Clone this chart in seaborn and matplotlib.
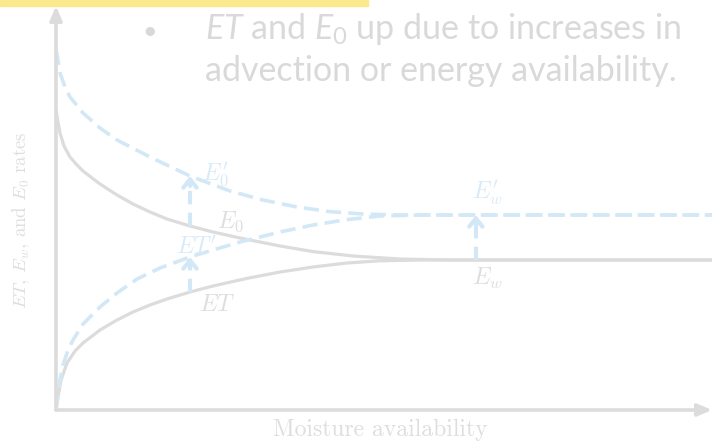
import numpy as np
import pandas as pd
import matplotlib as mpl
import matplotlib.pyplot as plt
import matplotlib.patches as mpatches
import seaborn as sns

# curve points (x = moisture availability, y = rate), 0-100 scale
e0_x = [0, 0.30, 0.61, 1.22, 2.13, 3.20, 4.12, 5.49, 6.71, 9.30, 11.74, 14.33, 16.92, 20.43,
        23.93, 28.05, 34.15, 39.18, 45.27, 52.44, 60.06, 100]
e0_y = [75, 72, 69.25, 66, 63.25, 61.25, 59.75, 58, 56.5, 53.75, 51.5, 49.5, 47.75, 46,
        44.5, 43, 41, 39.6, 38.5, 37.75, 37.5, 37.5]

et_x = [0, 0.30, 0.76, 1.68, 2.9, 4.12, 6.71, 9.30, 11.74, 14.33, 16.92, 20.43, 23.93,
        29.1, 34.15, 39.18, 44.36, 49.39, 55.49, 100]
et_y = [0, 3.25, 7.5, 11.75, 14.75, 16.75, 20, 22.5, 24.5, 26.25, 27.75, 29.5, 31.0,
        32.9, 34.5, 35.75, 36.75, 37.3, 37.5, 37.5]

e0p_x = [0, 0.30, 0.61, 1.37, 2.13, 4.12, 6.71, 9.30, 14.33, 20.43, 26.52, 31.55, 36.74,
         41.77, 46.8, 52.44, 100]
e0p_y = [90, 87.5, 84.25, 80.75, 78.25, 74.25, 70.5, 67.5, 63.25, 58.5, 54.75, 52.5, 50.75,
         49.6, 49, 48.75, 48.75]

etp_x = [0, 0.30, 0.61, 1.07, 1.83, 2.59, 4.12, 6.71, 9.30, 12.35, 15.85, 20.43, 23.93,
         28.05, 34.15, 39.18, 44.36, 49.39, 55.49, 100]
etp_y = [0, 3.75, 7.5, 11.25, 15, 17.5, 21.5, 25.75, 29.25, 32.75, 35.5, 38.25, 40, 42,
         44.5, 46.25, 47.6, 48.5, 48.75, 48.75]

# vertical shift arrows: x, from, to
arrow_x = [20.43, 20.43, 64.0]
arrow_from = [46.0, 29.5, 37.5]
arrow_to = [58.5, 38.25, 48.75]

# curve labels
gray_labels = [r"$E_0$", r"$ET$", r"$E_w$"]
gray_pos = [(26.6, 47.0), (24.6, 26.5), (65.8, 33.0)]
blue_labels = [r"$E_0'$", r"$ET'$", r"$E_w'$"]
blue_pos = [(24.3, 58.8), (21.4, 40.8), (65.8, 54.3)]

bullet_lines = [r"$\mathit{ET}$ and $\mathit{E}_0$ up due to increases in",
                "advection or energy availability."]

sns.set_theme(style='white')
plt.rcParams['mathtext.fontset'] = 'cm'
plt.rcParams['mathtext.rm'] = 'Lato'
plt.rcParams['mathtext.it'] = 'Lato:italic'

GRAY = '#dcdcdc'
BLUE = '#d3e8f6'
GRAY_TXT = '#dedede'
BLUE_TXT = '#d9ebf8'

fig = plt.figure(figsize=(7.12, 4.41), dpi=100)
ax = fig.add_axes([56 / 712, 31 / 441, 656 / 712, 400 / 441])

solid = pd.concat([pd.DataFrame({'x': e0_x, 'y': e0_y, 'curve': 'E0'}),
                   pd.DataFrame({'x': et_x, 'y': et_y, 'curve': 'ET'})])
dashed = pd.concat([pd.DataFrame({'x': e0p_x, 'y': e0p_y, 'curve': "E0'"}),
                    pd.DataFrame({'x': etp_x, 'y': etp_y, 'curve': "ET'"})])

sns.lineplot(data=solid, x='x', y='y', units='curve', estimator=None, sort=False,
             color=GRAY, lw=2.3, ax=ax)
sns.lineplot(data=dashed, x='x', y='y', units='curve', estimator=None, sort=False,
             color=BLUE, lw=2.6, ax=ax)
for line in ax.get_lines()[2:]:
    line.set_dashes((4.2, 2.0))
for line in ax.get_lines():
    line.set_dash_joinstyle('round')
    line.set_solid_joinstyle('round')

for x, y0, y1 in zip(arrow_x, arrow_from, arrow_to):
    ax.plot([x, x], [y0, y1 - 0.8], color=BLUE, lw=3.0, dashes=(3.2, 2.0))
    ax.annotate('', xy=(x, y1), xytext=(x, y1 - 2.5),
                arrowprops=dict(arrowstyle='->,head_length=0.5,head_width=0.4',
                                color=BLUE, lw=3.0, shrinkA=0, shrinkB=0))

for txt, (x, y) in zip(gray_labels, gray_pos):
    ax.text(x, y, txt, color=GRAY_TXT, fontsize=17, ha='center', va='center')
for txt, (x, y) in zip(blue_labels, blue_pos):
    ax.text(x, y, txt, color=BLUE_TXT, fontsize=17, ha='center', va='center')

ax.set_xlim(0, 100)
ax.set_ylim(0, 100)
ax.set_xticks([])
ax.set_yticks([])
for s in ax.spines.values():
    s.set_visible(False)

# axes drawn as arrows
ax.annotate('', xy=(0, 1.01), xytext=(0, 0), xycoords='axes fraction',
            arrowprops=dict(arrowstyle='-|>,head_length=0.7,head_width=0.3', color=GRAY,
                            lw=2.6, shrinkA=0, shrinkB=0), annotation_clip=False)
ax.annotate('', xy=(1.0, 0), xytext=(0, 0), xycoords='axes fraction',
            arrowprops=dict(arrowstyle='-|>,head_length=0.7,head_width=0.3', color=GRAY,
                            lw=2.6, shrinkA=0, shrinkB=0), annotation_clip=False)

ax.set_xlabel('Moisture availability', fontfamily='cmr10', fontsize=17, color=GRAY_TXT)
ax.xaxis.set_label_coords(0.495, -0.022)
ax.set_ylabel(r'$ET$, $E_w$, and $E_0$ rates', fontfamily='cmr10', fontsize=13.5, color=GRAY_TXT)
ax.yaxis.set_label_coords(-0.037, 0.475)

# slide overlay: yellow band and bullet text
fig.patches.append(mpatches.Rectangle((0, 1 - 6 / 441), 368 / 712, 6 / 441,
                                      transform=fig.transFigure, color='#fbe98e', zorder=5))
fig.text(150 / 712, 1 - 31 / 441, '\u2022', fontsize=18, color='#d8d8d8', ha='center', va='center',
         fontfamily='Lato')
for i, line in enumerate(bullet_lines):
    fig.text(205 / 712, 1 - (29 + 42 * i) / 441, line, fontsize=24.5, color='#d9d9d9',
             fontfamily='Lato', math_fontfamily='custom', va='center')

fig.savefig('out.png', dpi=100)
